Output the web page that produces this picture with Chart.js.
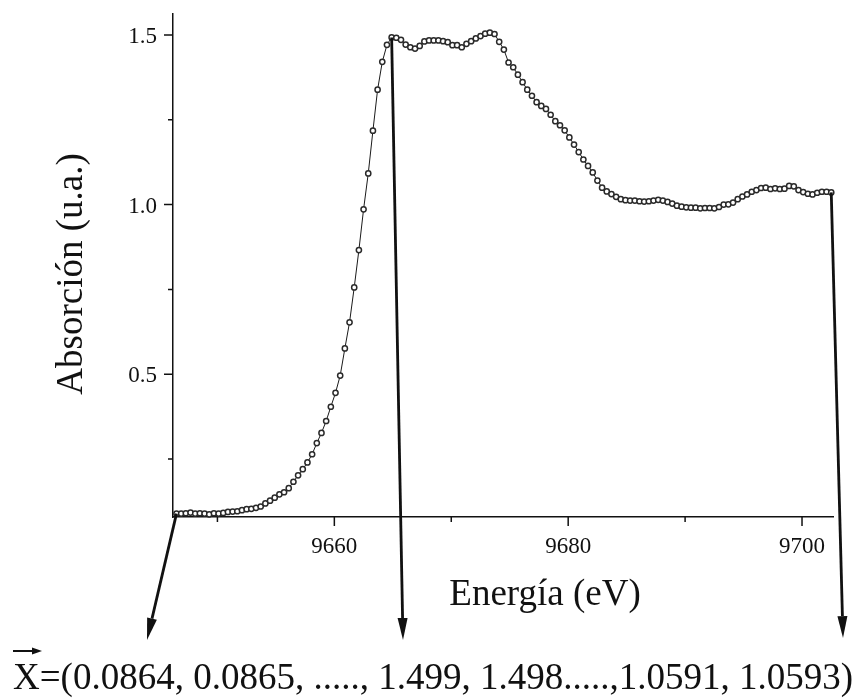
<!DOCTYPE html>
<html>
<head>
<meta charset="utf-8">
<script src="https://cdn.jsdelivr.net/npm/chart.js@4.4.0/dist/chart.umd.min.js"></script>
<style>
  html, body { margin: 0; padding: 0; background: #fff; }
  canvas { display: block; }
</style>
</head>
<body>
<canvas id="xanes" width="867" height="698"></canvas>
<script>
// ── Spectrum (energy in eV, absorption in a.u.) ─────────────────────────────
const energy = [
  9646.5, 9646.9, 9647.3, 9647.7, 9648.1, 9648.5, 9648.9, 9649.3, 9649.7, 9650.1,
  9650.5, 9650.9, 9651.3, 9651.7, 9652.1, 9652.5, 9652.9, 9653.3, 9653.7, 9654.1,
  9654.5, 9654.9, 9655.3, 9655.7, 9656.1, 9656.5, 9656.9, 9657.3, 9657.7, 9658.1,
  9658.5, 9658.9, 9659.3, 9659.7, 9660.1, 9660.5, 9660.9, 9661.3, 9661.7, 9662.1,
  9662.5, 9662.9, 9663.3, 9663.7, 9664.1, 9664.5, 9664.9, 9665.3, 9665.7, 9666.1,
  9666.5, 9666.9, 9667.3, 9667.7, 9668.1, 9668.5, 9668.9, 9669.3, 9669.7, 9670.1,
  9670.5, 9670.9, 9671.3, 9671.7, 9672.1, 9672.5, 9672.9, 9673.3, 9673.7, 9674.1,
  9674.5, 9674.9, 9675.3, 9675.7, 9676.1, 9676.5, 9676.9, 9677.3, 9677.7, 9678.1,
  9678.5, 9678.9, 9679.3, 9679.7, 9680.1, 9680.5, 9680.9, 9681.3, 9681.7, 9682.1,
  9682.5, 9682.9, 9683.3, 9683.7, 9684.1, 9684.5, 9684.9, 9685.3, 9685.7, 9686.1,
  9686.5, 9686.9, 9687.3, 9687.7, 9688.1, 9688.5, 9688.9, 9689.3, 9689.7, 9690.1,
  9690.5, 9690.9, 9691.3, 9691.7, 9692.1, 9692.5, 9692.9, 9693.3, 9693.7, 9694.1,
  9694.5, 9694.9, 9695.3, 9695.7, 9696.1, 9696.5, 9696.9, 9697.3, 9697.7, 9698.1,
  9698.5, 9698.9, 9699.3, 9699.7, 9700.1, 9700.5, 9700.9, 9701.3, 9701.7, 9702.1,
  9702.5
];

const absorption = [
  0.089, 0.089, 0.090, 0.092, 0.089, 0.090, 0.089, 0.087, 0.090, 0.089,
  0.091, 0.094, 0.095, 0.096, 0.099, 0.102, 0.103, 0.106, 0.110, 0.119,
  0.127, 0.136, 0.146, 0.152, 0.164, 0.183, 0.202, 0.220, 0.240, 0.264,
  0.297, 0.327, 0.362, 0.404, 0.445, 0.496, 0.576, 0.653, 0.756, 0.866,
  0.986, 1.092, 1.218, 1.339, 1.421, 1.471, 1.493, 1.492, 1.486, 1.472,
  1.464, 1.460, 1.468, 1.481, 1.484, 1.484, 1.484, 1.482, 1.479, 1.470,
  1.470, 1.464, 1.474, 1.482, 1.490, 1.497, 1.504, 1.507, 1.503, 1.480,
  1.457, 1.419, 1.405, 1.383, 1.361, 1.339, 1.321, 1.302, 1.291, 1.282,
  1.265, 1.246, 1.234, 1.219, 1.198, 1.177, 1.155, 1.133, 1.114, 1.095,
  1.071, 1.050, 1.039, 1.031, 1.023, 1.016, 1.013, 1.012, 1.012, 1.010,
  1.009, 1.010, 1.012, 1.014, 1.012, 1.008, 1.003, 0.997, 0.994, 0.992,
  0.991, 0.991, 0.989, 0.990, 0.990, 0.989, 0.993, 1.000, 1.001, 1.006,
  1.016, 1.024, 1.030, 1.038, 1.043, 1.049, 1.050, 1.046, 1.048, 1.046,
  1.047, 1.055, 1.054, 1.043, 1.037, 1.032, 1.030, 1.035, 1.038, 1.038,
  1.036
];

// ── Axes ─────────────────────────────────────────────────────────────────────
const xRange      = [9646.2, 9702.65];
const yRange      = [0.079, 1.562];
const xMajorTicks = [9660, 9680, 9700];
const xMinorTicks = [9650, 9670, 9690];
const yMajorTicks = [0.5, 1.0, 1.5];
const yMinorTicks = [0.25, 0.75, 1.25];
const xTitle = 'Energía (eV)';
const yTitle = 'Absorción (u.a.)';

// Vector written under the plot, and the points the arrows come from
const vectorText  = 'X=(0.0864, 0.0865, ....., 1.499, 1.498.....,1.0591, 1.0593)';
const arrowPoints = [0, 46, 140];
const arrowTips   = [[147, 640], [403, 640], [843, 638]];

const SERIF = '"Liberation Serif", "Times New Roman", serif';
const INK   = '#111';

function drawArrow(ctx, x1, y1, x2, y2, lw, headLen, headHalf) {
  const ang = Math.atan2(y2 - y1, x2 - x1);
  const bx = x2 - Math.cos(ang) * headLen;
  const by = y2 - Math.sin(ang) * headLen;
  ctx.save();
  ctx.strokeStyle = INK;
  ctx.fillStyle = INK;
  ctx.lineWidth = lw;
  ctx.beginPath();
  ctx.moveTo(x1, y1);
  ctx.lineTo(bx, by);
  ctx.stroke();
  ctx.beginPath();
  ctx.moveTo(x2, y2);
  ctx.lineTo(bx + Math.sin(ang) * headHalf, by - Math.cos(ang) * headHalf);
  ctx.lineTo(bx - Math.sin(ang) * headHalf, by + Math.cos(ang) * headHalf);
  ctx.closePath();
  ctx.fill();
  ctx.restore();
}

// Ticks, labels, titles and the annotation arrows
const decorations = {
  id: 'decorations',
  afterDraw(chart) {
    const { ctx, chartArea: area, scales: { x, y } } = chart;
    ctx.save();
    ctx.strokeStyle = INK;
    ctx.fillStyle = INK;
    ctx.lineWidth = 1.5;

    // tick marks (outside)
    ctx.beginPath();
    xMajorTicks.forEach(v => { const p = x.getPixelForValue(v); ctx.moveTo(p, area.bottom); ctx.lineTo(p, area.bottom + 9); });
    xMinorTicks.forEach(v => { const p = x.getPixelForValue(v); ctx.moveTo(p, area.bottom); ctx.lineTo(p, area.bottom + 5); });
    yMajorTicks.forEach(v => { const p = y.getPixelForValue(v); ctx.moveTo(area.left, p); ctx.lineTo(area.left - 9, p); });
    yMinorTicks.forEach(v => { const p = y.getPixelForValue(v); ctx.moveTo(area.left, p); ctx.lineTo(area.left - 5, p); });
    ctx.stroke();

    // tick labels
    ctx.font = `23px ${SERIF}`;
    ctx.textBaseline = 'alphabetic';
    ctx.textAlign = 'center';
    xMajorTicks.forEach(v => ctx.fillText(String(v), x.getPixelForValue(v), area.bottom + 36));
    ctx.textAlign = 'right';
    yMajorTicks.forEach(v => ctx.fillText(v.toFixed(1), area.left - 16, y.getPixelForValue(v) + 8));

    // axis titles
    ctx.font = `37px ${SERIF}`;
    ctx.textAlign = 'center';
    ctx.fillText(xTitle, 545, 605);
    ctx.save();
    ctx.translate(82, 274);
    ctx.rotate(-Math.PI / 2);
    ctx.fillText(yTitle, 0, 0);
    ctx.restore();

    // arrows from chosen spectrum points down to the vector
    arrowPoints.forEach((idx, k) => {
      const px = x.getPixelForValue(energy[idx]);
      const py = y.getPixelForValue(absorption[idx]);
      drawArrow(ctx, px, py, arrowTips[k][0], arrowTips[k][1], 2.8, 22, 5);
    });

    // vector symbol and its components
    drawArrow(ctx, 13, 651, 42, 651, 2, 10, 3.5);
    ctx.font = `37px ${SERIF}`;
    ctx.textAlign = 'left';
    ctx.fillText(vectorText, 13, 689);
    ctx.restore();
  }
};

const points = energy.map((e, i) => ({ x: e, y: absorption[i] }));

new Chart(document.getElementById('xanes'), {
  type: 'scatter',
  data: {
    datasets: [{
      data: points,
      showLine: true,
      borderColor: '#1a1a1a',
      borderWidth: 1,
      pointRadius: 2.6,
      pointBorderWidth: 1.5,
      pointBorderColor: '#2a2a2a',
      pointBackgroundColor: '#fff',
      clip: false,
    }],
  },
  options: {
    responsive: false,
    animation: false,
    devicePixelRatio: 1,
    layout: { padding: { left: 173, top: 14, right: 34, bottom: 181 } },
    plugins: { legend: { display: false }, tooltip: { enabled: false } },
    scales: {
      x: {
        type: 'linear',
        min: xRange[0],
        max: xRange[1],
        grid: { display: false, drawTicks: false },
        ticks: { display: false },
        border: { display: true, color: INK, width: 1.5 },
      },
      y: {
        type: 'linear',
        min: yRange[0],
        max: yRange[1],
        grid: { display: false, drawTicks: false },
        ticks: { display: false },
        border: { display: true, color: INK, width: 1.5 },
      },
    },
  },
  plugins: [decorations],
});
</script>
</body>
</html>
